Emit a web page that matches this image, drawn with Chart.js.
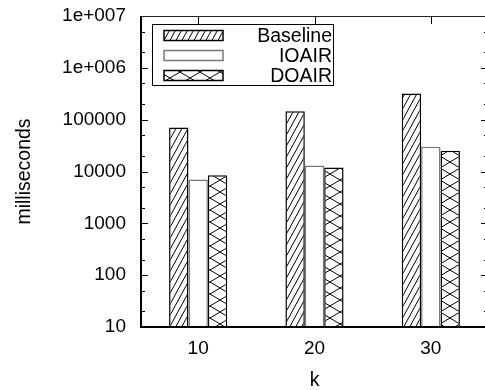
<!DOCTYPE html>
<html>
<head>
<meta charset="utf-8">
<script src="https://cdn.jsdelivr.net/npm/chart.js@4.4.1/dist/chart.umd.min.js"></script>
<style>
  html, body { margin: 0; padding: 0; background: #fff; overflow: hidden; }
  canvas { display: block; }
</style>
</head>
<body>
<canvas id="chart" width="490" height="390"></canvas>
<script>
// values
const kValues = ['10', '20', '30'];
const baselineMs = [71000, 145000, 320000];
const ioairMs = [7000, 13000, 30000];
const doairMs = [8500, 12000, 25000];
const yTickValues = [10, 100, 1000, 10000, 100000, 1000000, 10000000];
const yTickLabels = ['10', '100', '1000', '10000', '100000', '1e+006', '1e+007'];
const yMinorSteps = [2, 5];

const FONT = "'Liberation Sans', Arial, sans-serif";
const canvas = document.getElementById('chart');
const mainCtx = canvas.getContext('2d');

function makePattern(w, h, draw) {
  const c = document.createElement('canvas');
  c.width = w;
  c.height = h;
  const g = c.getContext('2d');
  g.fillStyle = '#fff';
  g.fillRect(0, 0, w, h);
  g.strokeStyle = '#000';
  g.lineWidth = 1;
  draw(g, w, h);
  return mainCtx.createPattern(c, 'repeat');
}

// "////" hatch for Baseline
const stripes = makePattern(6, 11, (g, w, h) => {
  for (const dx of [-w, 0, w]) {
    g.beginPath();
    g.moveTo(dx - 1, h + h / w);
    g.lineTo(dx + w + 1, -h / w);
    g.stroke();
  }
});

// "XXXX" hatch for DOAIR
const crosses = makePattern(20, 12, (g, w, h) => {
  for (const dx of [-w, 0, w]) {
    for (const dy of [-h, 0, h]) {
      g.beginPath();
      g.moveTo(dx, dy);
      g.lineTo(dx + w, dy + h);
      g.moveTo(dx, dy + h);
      g.lineTo(dx + w, dy);
      g.stroke();
    }
  }
});

function line(ctx, x1, y1, x2, y2) {
  ctx.beginPath();
  ctx.moveTo(x1, y1);
  ctx.lineTo(x2, y2);
  ctx.stroke();
}

// gnuplot style: inward ticks on all four sides, full frame, boxed legend
const gnuplotFrame = {
  id: 'gnuplotFrame',
  beforeDatasetsDraw(chart) {
    const {ctx, chartArea: a, scales: {x}} = chart;
    ctx.save();
    ctx.strokeStyle = '#000';
    ctx.lineWidth = 1;
    kValues.forEach((_, i) => {
      const px = Math.round(x.getPixelForValue(i)) + 0.5;
      line(ctx, px, a.bottom, px, a.bottom - 8);
    });
    ctx.restore();
  },
  afterDraw(chart) {
    const {ctx, chartArea: a, scales: {x, y}} = chart;
    ctx.save();
    ctx.strokeStyle = '#000';
    ctx.lineWidth = 1;
    yTickValues.forEach((v, i) => {
      const py = Math.round(y.getPixelForValue(v)) + 0.5;
      line(ctx, a.left, py, a.left + 8, py);
      line(ctx, a.right, py, a.right - 8, py);
      if (i < yTickValues.length - 1) {
        yMinorSteps.forEach(m => {
          const pm = Math.round(y.getPixelForValue(v * m)) + 0.5;
          line(ctx, a.left, pm, a.left + 5, pm);
          line(ctx, a.right, pm, a.right - 5, pm);
        });
      }
    });
    kValues.forEach((_, i) => {
      const px = Math.round(x.getPixelForValue(i)) + 0.5;
      line(ctx, px, a.top, px, a.top + 8);
    });

    // frame
    ctx.strokeStyle = '#222';
    line(ctx, a.left, Math.round(a.top) + 0.5, a.right, Math.round(a.top) + 0.5);
    line(ctx, a.right, a.top, a.right, a.bottom);
    ctx.strokeStyle = '#000';
    ctx.lineWidth = 2;
    line(ctx, a.left + 1, a.top, a.left + 1, a.bottom + 1);
    line(ctx, a.left, a.bottom, a.right, a.bottom);

    // legend box
    const bx = a.left + 12, by = a.top + 8, bw = 181, bh = 61;
    ctx.lineWidth = 1;
    ctx.fillStyle = '#fff';
    ctx.fillRect(bx, by, bw, bh);
    ctx.strokeStyle = '#000';
    ctx.strokeRect(bx + 0.5, by + 0.5, bw, bh);
    ctx.font = '19.5px ' + FONT;
    ctx.textAlign = 'right';
    ctx.textBaseline = 'middle';
    chart.data.datasets.forEach((ds, i) => {
      const cy = by + 11.5 + i * 20;
      ctx.fillStyle = ds.backgroundColor;
      ctx.fillRect(bx + 12, cy - 5, 59, 10);
      ctx.strokeStyle = ds.borderColor;
      ctx.lineWidth = 1.5;
      ctx.strokeRect(bx + 12, cy - 5, 59, 10);
      ctx.fillStyle = '#000';
      ctx.fillText(ds.label, bx + bw - 1, cy + 1);
    });
    ctx.restore();
  }
};

new Chart(canvas, {
  type: 'bar',
  data: {
    labels: kValues,
    datasets: [
      {
        label: 'Baseline',
        data: baselineMs,
        backgroundColor: stripes,
        borderColor: '#000',
        borderWidth: 1.5
      },
      {
        label: 'IOAIR',
        data: ioairMs,
        backgroundColor: '#fff',
        borderColor: '#777',
        borderWidth: 1.5
      },
      {
        label: 'DOAIR',
        data: doairMs,
        backgroundColor: crosses,
        borderColor: '#000',
        borderWidth: 1.5
      }
    ]
  },
  options: {
    responsive: false,
    animation: false,
    devicePixelRatio: 1,
    layout: { padding: { top: 16, right: 1, left: 0, bottom: 0 } },
    datasets: { bar: { categoryPercentage: 0.5, barPercentage: 1.0 } },
    plugins: {
      legend: { display: false },
      tooltip: { enabled: false }
    },
    scales: {
      x: {
        grid: { display: false },
        border: { display: false },
        ticks: { color: '#000', padding: 2, font: { family: FONT, size: 19 } },
        title: {
          display: true,
          text: 'k',
          color: '#000',
          padding: { top: 0, bottom: 0 },
          font: { family: FONT, size: 19.5, lineHeight: 1 }
        },
        afterFit: s => { s.height = 63; s.paddingLeft = 0; s.paddingRight = 0; }
      },
      y: {
        type: 'logarithmic',
        min: 10,
        max: 10000000,
        grid: { display: false },
        border: { display: false },
        afterBuildTicks: s => { s.ticks = yTickValues.map(v => ({ value: v })); },
        ticks: {
          color: '#000',
          padding: 6,
          font: { family: FONT, size: 19 },
          callback: v => yTickLabels[yTickValues.indexOf(v)]
        },
        title: {
          display: true,
          text: 'milliseconds',
          color: '#000',
          padding: { top: 13, bottom: 0 },
          font: { family: FONT, size: 19.5 }
        },
        afterFit: s => { s.width = 140; s.paddingTop = 0; s.paddingBottom = 0; }
      }
    }
  },
  plugins: [gnuplotFrame]
});
</script>
</body>
</html>
